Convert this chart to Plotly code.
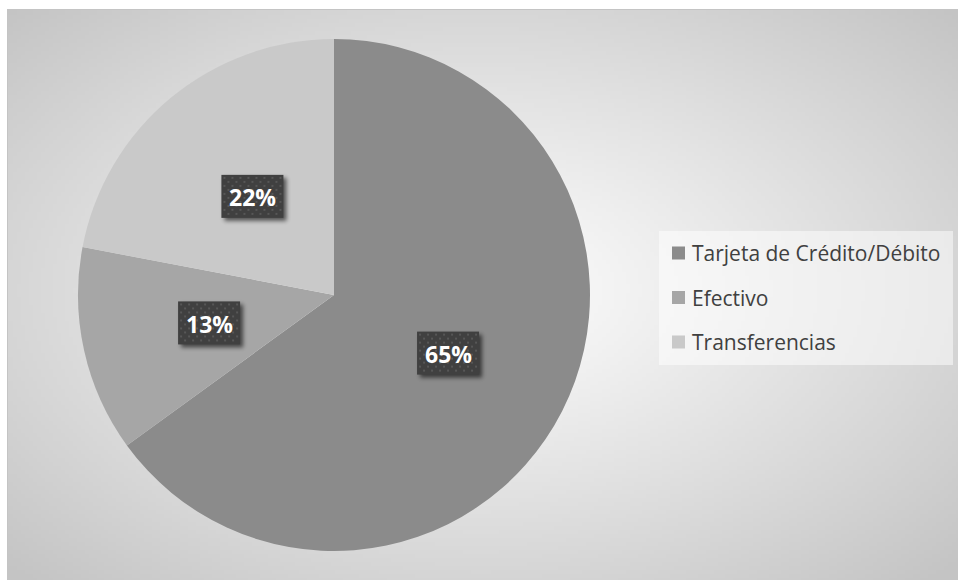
import base64
import struct
import zlib

import numpy as np
import plotly.graph_objects as go

# ---- data -------------------------------------------------------------
categories = ["Tarjeta de Crédito/Débito", "Efectivo", "Transferencias"]
shares = [65, 13, 22]
slice_colors = ["#8b8b8b", "#a6a6a6", "#c9c9c9"]

# ---- page geometry (pixels) ----------------------------------------------
W, H = 958, 580
CHART = (7, 9, 962, 588)          # chart area rectangle (runs past the page edge)
PIE_CX, PIE_CY, PIE_R = 334, 295, 256
LEG_BOX = (659, 231, 953, 365)
LEG_KEY_X, LEG_TEXT_X = 672, 690
LEG_ROWS = [253, 297.5, 342]
KEY = 13
LBL_W, LBL_H = 62, 43
FONT = "Open Sans"


def px(x):
    return x / W


def py(y):
    return 1 - y / H


def to_png(arr):
    h, w, c = arr.shape
    ctype = 6 if c == 4 else 2
    raw = b"".join(b"\x00" + arr[i].tobytes() for i in range(h))

    def chunk(tag, data):
        return (struct.pack(">I", len(data)) + tag + data
                + struct.pack(">I", zlib.crc32(tag + data) & 0xFFFFFFFF))

    png = (b"\x89PNG\r\n\x1a\n"
           + chunk(b"IHDR", struct.pack(">IIBBBBB", w, h, 8, ctype, 0, 0, 0))
           + chunk(b"IDAT", zlib.compress(raw, 9))
           + chunk(b"IEND", b""))
    return "data:image/png;base64," + base64.b64encode(png).decode()


# radial gray gradient for the chart area
cx0, cy0, cx1, cy1 = CHART
gw, gh = 240, 144
gx = np.linspace(cx0, cx1, gw)[None, :]
gy = np.linspace(cy0, cy1, gh)[:, None]
a, b = (958 - cx0) / 2, (580 - cy0) / 2
t = np.sqrt(((gx - 480) / a) ** 2 + ((gy - 290) / b) ** 2) / np.sqrt(2)
t = np.clip(t, 0, 1)
val = (253 - 57 * t ** 1.1).astype(np.uint8)
bg_img = np.repeat(val[:, :, None], 3, axis=2)

# dotted dark fill for the value labels
pat = np.full((LBL_H, LBL_W, 3), 0x40, dtype=np.uint8)
for r, yy in enumerate(range(2, LBL_H - 1, 4)):
    off = 2 if r % 2 == 0 else 6
    for xx in range(off, LBL_W - 1, 8):
        pat[yy:yy + 2, xx:xx + 2] = 0x57

# soft drop shadow behind the labels
pad = 8
mask = np.zeros((LBL_H + 2 * pad, LBL_W + 2 * pad))
mask[pad:pad + LBL_H, pad:pad + LBL_W] = 1.0
k = np.exp(-0.5 * (np.arange(-6, 7) / 2.2) ** 2)
k /= k.sum()
blur = np.apply_along_axis(lambda r: np.convolve(r, k, mode="same"), 1, mask)
blur = np.apply_along_axis(lambda c: np.convolve(c, k, mode="same"), 0, blur)
shadow = np.zeros(mask.shape + (4,), dtype=np.uint8)
shadow[..., 3] = (blur * 150).astype(np.uint8)

fig = go.Figure(go.Pie(
    labels=categories,
    values=shares,
    sort=False,
    direction="clockwise",
    rotation=0,
    marker=dict(colors=slice_colors, line=dict(width=0)),
    textinfo="none",
    hoverinfo="label+percent",
    showlegend=False,
    domain=dict(x=[px(PIE_CX - PIE_R), px(PIE_CX + PIE_R)],
                y=[py(PIE_CY + PIE_R), py(PIE_CY - PIE_R)]),
))

images = [dict(source=to_png(bg_img), xref="paper", yref="paper",
               x=px(cx0), y=py(cy0), sizex=(cx1 - cx0) / W, sizey=(cy1 - cy0) / H,
               xanchor="left", yanchor="top", sizing="stretch", layer="below")]
annotations = []
shapes = [dict(type="rect", xref="paper", yref="paper",
               x0=px(cx0 + 0.5), x1=px(cx1 + 4), y0=py(cy1 + 4), y1=py(cy0 + 0.5),
               line=dict(color="#c4c4c4", width=1), fillcolor="rgba(0,0,0,0)",
               layer="above")]

# value labels at half radius along each slice's mid angle
total = sum(shares)
start = 0.0
for v in shares:
    sweep = 360.0 * v / total
    mid = np.radians(start + sweep / 2)
    start += sweep
    lx = PIE_CX + 0.5 * PIE_R * np.sin(mid)
    ly = PIE_CY - 0.5 * PIE_R * np.cos(mid)
    bx, by = lx - LBL_W / 2, ly - LBL_H / 2
    images.append(dict(source=to_png(shadow), xref="paper", yref="paper",
                       x=px(bx - pad + 3), y=py(by - pad + 3),
                       sizex=(LBL_W + 2 * pad) / W, sizey=(LBL_H + 2 * pad) / H,
                       xanchor="left", yanchor="top", sizing="stretch", layer="above"))
    images.append(dict(source=to_png(pat), xref="paper", yref="paper",
                       x=px(bx), y=py(by), sizex=LBL_W / W, sizey=LBL_H / H,
                       xanchor="left", yanchor="top", sizing="stretch", layer="above"))
    annotations.append(dict(text=f"{round(100 * v / total)}%", x=px(lx), y=py(ly + 1),
                            xref="paper", yref="paper", showarrow=False,
                            xanchor="center", yanchor="middle",
                            font=dict(family=FONT, size=23, color="white", weight="bold")))

# legend
lx0, ly0, lx1, ly1 = LEG_BOX
shapes.append(dict(type="rect", xref="paper", yref="paper",
                   x0=px(lx0), x1=px(lx1), y0=py(ly1), y1=py(ly0),
                   fillcolor="rgba(255,255,255,0.5)", line=dict(width=0), layer="below"))
for name, col, yc in zip(categories, slice_colors, LEG_ROWS):
    shapes.append(dict(type="rect", xref="paper", yref="paper",
                       x0=px(LEG_KEY_X), x1=px(LEG_KEY_X + KEY),
                       y0=py(yc + KEY / 2), y1=py(yc - KEY / 2),
                       fillcolor=col, line=dict(width=0), layer="above"))
    annotations.append(dict(text=name, x=px(LEG_TEXT_X), y=py(yc), xref="paper", yref="paper",
                            showarrow=False, xanchor="left", yanchor="middle",
                            font=dict(family=FONT, size=21, color="#404040")))

fig.update_layout(
    width=W, height=H,
    margin=dict(l=0, r=0, t=0, b=0),
    paper_bgcolor="white",
    plot_bgcolor="rgba(0,0,0,0)",
    images=images,
    shapes=shapes,
    annotations=annotations,
    showlegend=False,
)

fig.write_html("out.html")
